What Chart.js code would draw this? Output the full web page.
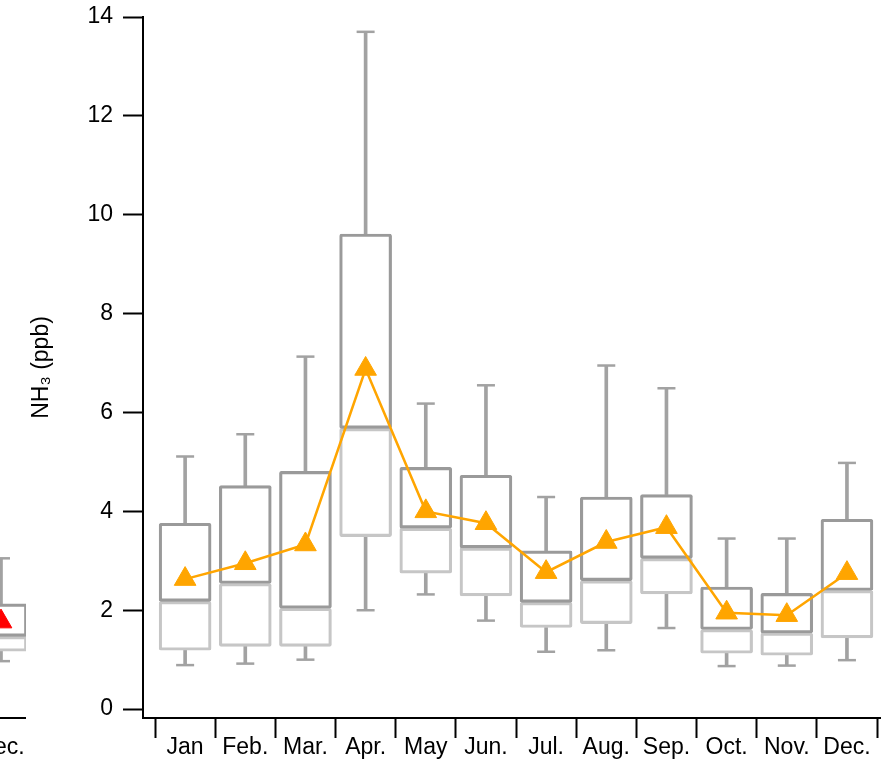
<!DOCTYPE html>
<html><head><meta charset="utf-8">
<script src="https://cdn.jsdelivr.net/npm/chart.js@4.4.1/dist/chart.umd.min.js"></script>
<style>
html,body{margin:0;padding:0;background:#fff;overflow:hidden;}
#wrap{position:relative;width:881px;height:762px;overflow:hidden;background:#fff;}
#main{position:absolute;left:0;top:0;}
#prev{position:absolute;left:-40px;top:0;}
</style></head><body>
<div id="wrap">
<canvas id="prev" width="66" height="762"></canvas>
<canvas id="main" width="881" height="762"></canvas>
</div>
<script>
// ---- data ----
const months      = ['Jan','Feb.','Mar.','Apr.','May','Jun.','Jul.','Aug.','Sep.','Oct.','Nov.','Dec.'];
const whiskerLow  = [0.89, 0.92, 1.00, 2.00, 2.32, 1.79, 1.16, 1.19, 1.64, 0.87, 0.88, 0.99];
const q1          = [1.19, 1.27, 1.27, 3.49, 2.75, 2.29, 1.65, 1.73, 2.33, 1.13, 1.09, 1.44];
const median      = [2.18, 2.54, 2.04, 5.68, 3.66, 3.26, 2.16, 2.60, 3.05, 1.61, 1.54, 2.40];
const q3          = [3.76, 4.52, 4.81, 9.61, 4.89, 4.73, 3.20, 4.29, 4.34, 2.47, 2.34, 3.84];
const whiskerHigh = [5.11, 5.56, 7.13, 13.70, 6.18, 6.55, 4.29, 6.95, 6.49, 3.45, 3.45, 4.98];
const meanVals    = [2.63, 2.95, 3.33, 6.88, 4.00, 3.76, 2.77, 3.38, 3.68, 1.95, 1.90, 2.75];
const yTicks      = [0, 2, 4, 6, 8, 10, 12, 14];

// fragment of the neighbouring panel (only its Dec. box is visible)
const prevCategory = ['Dec.'];
const prevLow    = [0.97];
const prevQ1     = [1.17];
const prevMedian = [1.47];
const prevQ3     = [2.13];
const prevHigh   = [3.05];
const prevMean   = [1.77];

// ---- styles ----
const UPPER = '#9a9a9a', LOWER = '#c6c6c6', WHISK = '#a2a2a2';
Chart.defaults.font.family = '"Liberation Sans", Arial, sans-serif';
Chart.defaults.color = '#000';

function makeDatasets(low, lo, med, hi, high, mean, meanColor) {
  const pts = arr => arr.map((v, i) => ({x: i, y: v}));
  const rng = (a, b) => a.map((v, i) => ({x: i, y: [v, b[i]]}));
  const box = {type: 'bar', grouped: false, borderSkipped: false, backgroundColor: 'rgba(0,0,0,0)',
               barThickness: 52, borderWidth: 2.5, borderRadius: 2};
  const whisk = {type: 'bar', grouped: false, borderSkipped: false, backgroundColor: WHISK,
                 borderWidth: 0, barThickness: 3};
  const cap = {type: 'line', showLine: false, pointStyle: 'line', pointRadius: 9,
               pointBorderWidth: 2.5, pointBorderColor: WHISK, borderColor: WHISK};
  return [
    {type: 'line', data: pts(mean), borderColor: meanColor, borderWidth: 2.5, tension: 0, fill: false,
     pointStyle: 'triangle', pointRadius: 12.5, pointBackgroundColor: meanColor,
     pointBorderColor: meanColor, pointBorderWidth: 1},
    Object.assign({}, box, {data: rng(med, hi), borderColor: UPPER}),
    Object.assign({}, box, {data: rng(lo, med), borderColor: LOWER}),
    Object.assign({}, cap, {data: pts(high)}),
    Object.assign({}, cap, {data: pts(low)}),
    Object.assign({}, whisk, {data: rng(hi, high)}),
    Object.assign({}, whisk, {data: rng(low, lo)})
  ];
}

const axisFont = {size: 23};
const yRange = {min: -0.18, max: 14};

function xAxis(min, max, tickValues, labels, showMarks) {
  return {
    type: 'linear', min: min, max: max, offset: false,
    afterBuildTicks: s => { s.ticks = tickValues.map(v => ({value: v})); },
    afterFit: s => { s.height = 44; s.paddingLeft = 0; s.paddingRight = 0; },
    ticks: {autoSkip: false, maxRotation: 0, minRotation: 0, padding: -4, color: '#000', font: axisFont,
            callback: v => Number.isInteger(v) ? labels[v] : ''},
    grid: {offset: false, drawOnChartArea: false, drawTicks: true, tickLength: 20, tickWidth: 2,
           tickColor: ctx => (!showMarks || (ctx.tick && Number.isInteger(ctx.tick.value))) ? 'rgba(0,0,0,0)' : '#000'},
    border: {display: true, color: '#000', width: 2}
  };
}

const xTickValues = months.flatMap((m, i) => [i - 0.5, i]).concat([months.length - 0.5]);

new Chart(document.getElementById('main'), {
  type: 'bar',
  data: {datasets: makeDatasets(whiskerLow, q1, median, q3, whiskerHigh, meanVals, '#FFA500')},
  options: {
    responsive: false, animation: false, devicePixelRatio: 1,
    layout: {autoPadding: false, padding: {top: 17, left: 0, right: 0, bottom: 0}},
    plugins: {legend: {display: false}, tooltip: {enabled: false}},
    scales: {
      x: xAxis(-0.7, 11.566, xTickValues, months, true),
      y: {
        type: 'linear', min: yRange.min, max: yRange.max,
        afterBuildTicks: s => { s.ticks = yTicks.map(v => ({value: v})); },
        afterFit: s => { s.width = 143; s.paddingTop = 0; s.paddingBottom = 0; },
        ticks: {padding: 10, color: '#000', font: axisFont},
        grid: {drawOnChartArea: false, drawTicks: true, tickLength: 20, tickWidth: 2, tickColor: '#000', color: '#000'},
        border: {display: true, color: '#000', width: 2},
        title: {display: true, text: 'NH\u2083 (ppb)', color: '#000', font: {size: 23}, padding: {top: 28, bottom: 0}}
      }
    }
  }
});

new Chart(document.getElementById('prev'), {
  type: 'bar',
  data: {datasets: makeDatasets(prevLow, prevQ1, prevMedian, prevQ3, prevHigh, prevMean, '#FF0000')},
  options: {
    responsive: false, animation: false, devicePixelRatio: 1,
    layout: {autoPadding: false, padding: {top: 17, left: 0, right: 0, bottom: 0}},
    plugins: {legend: {display: false}, tooltip: {enabled: false}},
    scales: {
      x: xAxis(-0.682, 0.416, [0], prevCategory, false),
      y: {type: 'linear', display: false, min: yRange.min, max: yRange.max}
    }
  }
});
</script>
</body></html>
